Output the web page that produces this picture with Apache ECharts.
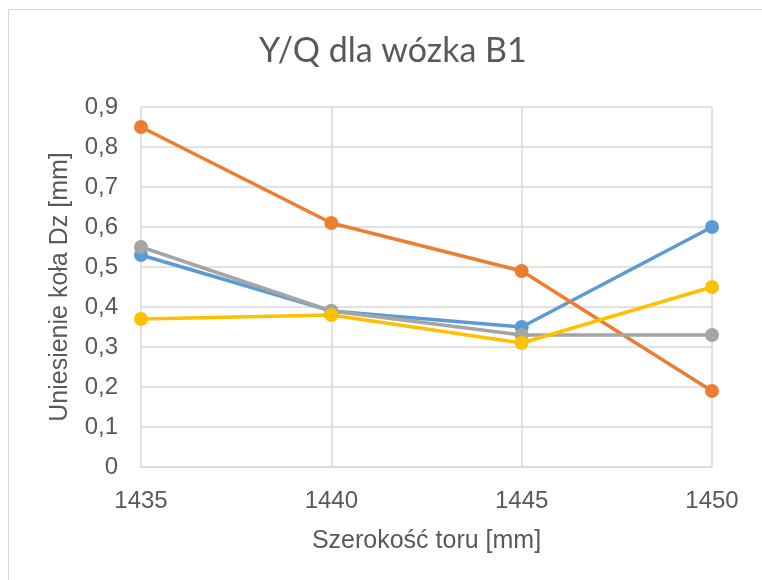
<!DOCTYPE html>
<html lang="pl">
<head>
    <meta charset="UTF-8">
    <title>Y/Q dla wózka B1</title>
    <script src="https://cdn.jsdelivr.net/npm/echarts@6/dist/echarts.min.js"></script>
</head>
<body style="margin:0">
<div id="container" style="width: 762px;height: 580px"></div>
<script>
// szerokosc toru [mm]
var xValues = [1435, 1440, 1445, 1450];
// serie - uniesienie kola
var blueVals = [0.53, 0.39, 0.35, 0.60];
var orangeVals = [0.85, 0.61, 0.49, 0.19];
var grayVals = [0.55, 0.39, 0.33, 0.33];
var yellowVals = [0.37, 0.38, 0.31, 0.45];

var chart = echarts.init(document.getElementById('container'));

function pairs(vals) {
    return xValues.map(function (x, i) { return [x, vals[i]]; });
}
function mkSeries(name, vals, color) {
    return {
        name: name,
        type: 'line',
        data: pairs(vals),
        symbol: 'circle',
        symbolSize: 14,
        lineStyle: { color: color, width: 3.5 },
        itemStyle: { color: color },
        animation: false
    };
}

var labelColor = '#595959';
chart.setOption({
    backgroundColor: '#fff',
    title: {
        text: 'Y/Q dla wózka B1',
        left: 254,
        top: 29,
        textStyle: { color: labelColor, fontFamily: 'Lato', fontWeight: 'normal', fontSize: 34 }
    },
    graphic: [{
        type: 'rect',
        shape: { x: 8.5, y: 9.5, width: 800, height: 620 },
        style: { fill: 'none', stroke: '#d9d9d9', lineWidth: 1 },
        silent: true
    }],
    grid: { left: 141, right: 50, top: 107, bottom: 113 },
    xAxis: {
        type: 'value',
        min: 1435, max: 1450, interval: 5,
        name: 'Szerokość toru [mm]',
        nameLocation: 'middle',
        nameGap: 62,
        nameTextStyle: { color: labelColor, fontFamily: 'Liberation Sans', fontSize: 25 },
        axisLine: { lineStyle: { color: '#d9d9d9', width: 1.5 } },
        axisTick: { show: false },
        axisLabel: {
            color: labelColor, fontFamily: 'Liberation Sans', fontSize: 24, margin: 22,
            formatter: function (v) { return String(v); }
        },
        splitLine: { show: true, lineStyle: { color: '#d9d9d9', width: 1.5 } }
    },
    yAxis: {
        type: 'value',
        min: 0, max: 0.9, interval: 0.1,
        name: 'Uniesienie koła Dz [mm]',
        nameLocation: 'middle',
        nameGap: 68,
        nameTextStyle: { color: labelColor, fontFamily: 'Liberation Sans', fontSize: 25 },
        axisLine: { show: false },
        axisTick: { show: false },
        axisLabel: {
            color: labelColor, fontFamily: 'Liberation Sans', fontSize: 24, margin: 23,
            formatter: function (v) { return (Math.round(v * 10) / 10).toString().replace('.', ','); }
        },
        splitLine: { lineStyle: { color: '#d9d9d9', width: 1.5 } }
    },
    series: [
        mkSeries('B1 a', blueVals, '#5b9bd5'),
        mkSeries('B1 b', orangeVals, '#ed7d31'),
        mkSeries('B1 c', grayVals, '#a5a5a5'),
        mkSeries('B1 d', yellowVals, '#ffc000')
    ]
});
</script>
</body>
</html>
